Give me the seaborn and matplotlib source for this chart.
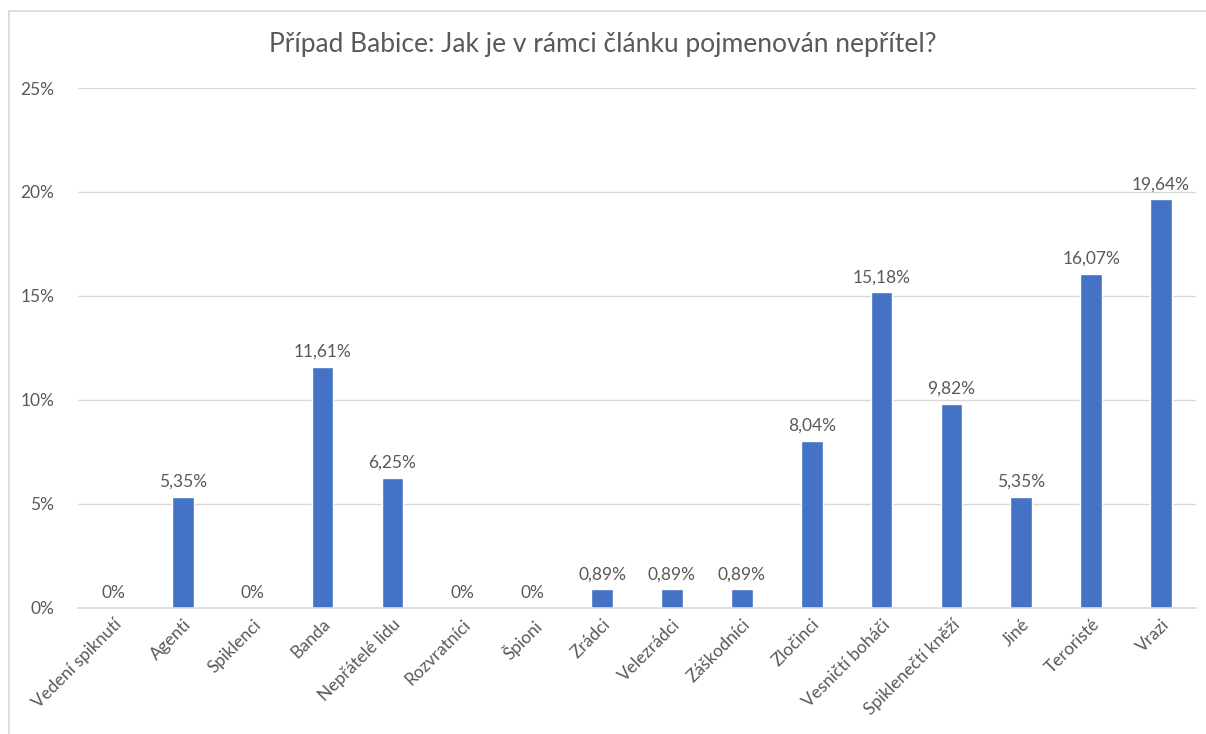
import pandas as pd
import seaborn as sns
import matplotlib.pyplot as plt
from matplotlib.ticker import FuncFormatter
from matplotlib.lines import Line2D

# data
categories = ["Vedení spiknutí", "Agenti", "Spiklenci", "Banda", "Nepřátelé lidu",
              "Rozvratníci", "Špioni", "Zrádci", "Velezrádci", "Záškodníci",
              "Zločinci", "Vesničtí boháči", "Spiklenečtí kněží", "Jiné",
              "Teroristé", "Vrazi"]
values = [0, 5.35, 0, 11.61, 6.25, 0, 0, 0.89, 0.89, 0.89,
          8.04, 15.18, 9.82, 5.35, 16.07, 19.64]

df = pd.DataFrame({"kategorie": categories, "podil": values})

sns.set_theme(style="white")
plt.rcParams['font.family'] = ['Lato', 'DejaVu Sans']
text_col = "#595959"

fig = plt.figure(figsize=(12.06, 7.34), dpi=100)
ax = fig.add_axes([0.0647, 0.1717, 0.927, 0.7084])

sns.barplot(data=df, x="kategorie", y="podil", color="#4472C4",
            saturation=1, width=0.31, ax=ax)

# popisky hodnot
labels = ["0%" if v == 0 else f"{v:.2f}".replace(".", ",") + "%" for v in values]
ax.bar_label(ax.containers[0], labels=labels, padding=5, fontsize=12.5, color=text_col)

ax.set_ylim(0, 25)
ax.set_yticks([0, 5, 10, 15, 20, 25])
ax.yaxis.set_major_formatter(FuncFormatter(lambda v, p: f"{v:.0f}%"))
ax.set_xlim(-0.5, len(categories) - 0.5)
ax.grid(axis="y", color="#D9D9D9", linewidth=1)
ax.set_axisbelow(True)
for s in ["top", "right", "left"]:
    ax.spines[s].set_visible(False)
ax.spines["bottom"].set_color("#D9D9D9")
ax.spines["bottom"].set_linewidth(1.2)

ax.set_xlabel("")
ax.set_ylabel("")
ax.tick_params(axis="both", length=0, labelsize=12.5, colors=text_col)
ax.tick_params(axis="y", pad=17)
ax.tick_params(axis="x", pad=6)
plt.setp(ax.get_xticklabels(), rotation=45, ha="right", rotation_mode="anchor")

fig.suptitle("Případ Babice: Jak je v rámci článku pojmenován nepřítel?",
             y=0.957, fontsize=19, color=text_col)

# rámeček grafu (jen horní a levá hrana jsou v obrázku)
W, H = 1206, 734
fig.add_artist(Line2D([9 / W, 1], [1 - 11 / H, 1 - 11 / H], transform=fig.transFigure,
                      color="#D9D9D9", linewidth=1.2))
fig.add_artist(Line2D([9 / W, 9 / W], [0, 1 - 11 / H], transform=fig.transFigure,
                      color="#D9D9D9", linewidth=1.2))

fig.savefig("out.png", dpi=100)
